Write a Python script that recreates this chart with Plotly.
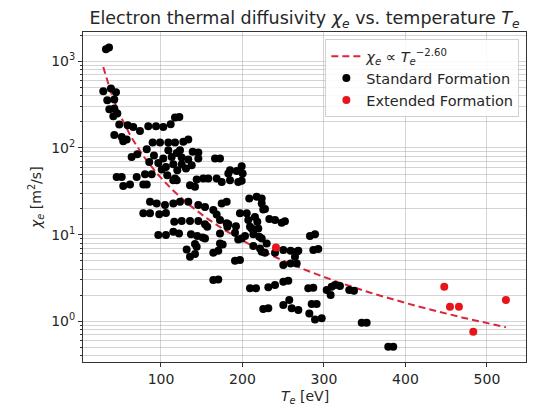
import plotly.graph_objects as go
import numpy as np

# Standard formation: temperature T_e [eV] and chi_e [m^2/s]
std_T = [32.5, 36.2, 29.2, 38.6, 44.8, 34.1, 42.7, 36.6, 42.7, 41.5, 46.4, 48.8, 59.1, 66.0, 74.2,
         84.4, 93.9, 102.8, 111.9, 117.2, 122.5, 42.7, 51.8, 53.7, 57.9, 89.8, 98.8, 109.0, 117.2,
         127.4, 133.5, 82.5, 109.0, 119.3, 123.3, 138.9, 145.8, 64.0, 70.9, 91.4, 102.8, 113.1,
         125.4, 133.5, 145.8, 166.3, 172.4, 85.6, 96.7, 106.1, 115.1, 125.4, 137.7, 100.9, 107.7,
         45.6, 51.8, 70.2, 80.4, 88.6, 117.2, 143.8, 151.9, 158.0, 168.3, 182.6, 120.0, 130.7,
         53.7, 62.0, 78.3, 82.5, 115.1, 119.3, 135.6, 141.7, 174.5, 86.5, 94.7, 104.9, 115.1,
         123.3, 133.5, 145.8, 154.0, 78.3, 86.5, 97.9, 106.1, 164.2, 168.3, 174.5, 180.6, 116.3,
         125.4, 135.6, 145.8, 154.0, 156.8, 182.6, 96.7, 106.1, 115.1, 122.1, 136.8, 144.5, 151.2,
         154.0, 141.7, 143.8, 131.5, 135.6, 141.7, 164.2, 170.3, 172.4, 175.7, 172.4, 164.2, 170.3,
         184.7, 184.7, 192.9, 199.0, 200.2, 199.0, 194.8, 172.4, 180.6, 181.4, 192.0, 196.9, 205.2,
         207.1, 209.2, 208.3, 217.4, 223.6, 223.6, 225.5, 227.6, 215.3, 218.2, 219.4, 211.3, 232.9,
         239.9, 248.1, 252.1, 190.8, 194.8, 199.0, 203.1, 213.3, 220.6, 223.6, 229.7, 213.3, 221.5,
         223.6, 227.6, 239.9, 250.1, 259.1, 266.5, 268.5, 250.1, 259.1, 266.5, 264.4, 282.8, 289.0,
         286.9, 293.0, 190.8, 196.9, 209.2, 216.6, 231.7, 239.9, 250.1, 256.2, 225.5, 231.7, 250.1,
         257.4, 260.4, 268.5, 280.7, 286.9, 282.0, 284.9, 291.0, 289.0, 297.2, 303.3, 308.2, 309.4,
         313.5, 319.6, 331.0, 336.8, 346.3, 352.4, 378.9, 385.0]
std_chi = [1380, 1443, 452, 486, 440, 356, 362, 280, 286, 233, 250, 187, 183, 175, 157,
           178, 178, 175, 188, 225, 228, 141, 134, 120, 125, 116, 116, 116, 116,
           118, 125, 96.9, 94.4, 87.8, 94.4, 90.2, 88.7, 78.9, 84.8, 81.9, 75.6, 78.9,
           77.6, 73.6, 75.6, 75.6, 75.6, 69.1, 67.3, 60.5, 65.0, 64.5, 63.3, 56.5, 48.6,
           46.4, 46.4, 46.4, 49.9, 49.9, 44.5, 43.3, 44.5, 44.5, 44.5, 50.8, 55.5, 58.0,
           36.3, 37.9, 37.9, 37.9, 42.5, 42.5, 37.2, 35.6, 40.6, 23.9, 22.9, 21.9, 22.9,
           23.9, 23.9, 21.9, 20.9, 17.6, 17.6, 17.2, 17.8, 19.2, 17.1, 22.9, 23.9, 14.1,
           14.4, 14.4, 14.4, 13.2, 12.3, 13.2, 9.87, 9.87, 10.8, 10.3, 10.1, 9.61, 9.29,
           9.04, 7.77, 7.23, 6.75, 5.55, 5.96, 6.17, 6.50, 7.91, 7.71, 10.3, 2.99, 3.04,
           42.5, 55.5, 54.4, 61.7, 50.8, 41.8, 40.6, 14.7, 13.5, 12.3, 12.5, 17.6, 17.6,
           14.7, 12.3, 26.2, 27.3, 26.2, 22.9, 19.5, 19.8, 16.0, 14.1, 11.8, 11.8, 15.1,
           14.7, 13.7, 14.3, 10.5, 8.80, 9.04, 9.61, 10.1, 9.43, 9.04, 7.91, 7.37, 6.93,
           6.33, 6.17, 6.17, 6.63, 6.50, 6.33, 6.50, 4.45, 4.65, 4.65, 5.55, 9.61, 10.1,
           6.63, 6.80, 4.99, 5.08, 2.40, 2.40, 2.46, 2.62, 2.86, 2.93, 1.38, 1.41, 1.54,
           1.76, 1.41, 1.35, 2.40, 2.43, 1.23, 1.58, 1.58, 1.05, 1.08, 2.29, 2.01, 2.50,
           2.62, 2.55, 2.29, 2.25, 0.96, 0.96, 0.508, 0.508]

# Extended formation
ext_T = [241.1, 447.6, 454.6, 465.6, 483.2, 523.3]
ext_chi = [7.12, 2.50, 1.47, 1.47, 0.757, 1.76]

# Power-law guide line as drawn: chi = A * T^(-p)
fit_A = 2.8e6
fit_p = 2.397
fit_label_exp = "−2.60"

x_ticks = [100, 200, 300, 400, 500]
y_ticks = [1, 10, 100, 1000]
y_ticktext = ["10<sup>0</sup>", "10<sup>1</sup>", "10<sup>2</sup>", "10<sup>3</sup>"]

T_all = std_T + ext_T
T_line = np.linspace(min(T_all), max(T_all), 300)
chi_line = fit_A * T_line ** (-fit_p)

minor_vals = [m * 10.0 ** k for k in range(-1, 4) for m in range(2, 10)]

FONT = "DejaVu Sans"
GRID = "rgba(170,170,170,0.5)"
TXT = "#262626"

fig = go.Figure()
fig.add_trace(go.Scatter(
    x=T_line, y=chi_line, mode="lines",
    line=dict(color="#d9263a", width=2, dash="7px,4px"),
    name=f"<i>χ<sub>e</sub></i> ∝ <i>T<sub>e</sub></i><sup>{fit_label_exp}</sup>",
))
fig.add_trace(go.Scatter(
    x=std_T, y=std_chi, mode="markers",
    marker=dict(color="black", size=8, line=dict(width=0)),
    name="Standard Formation",
))
fig.add_trace(go.Scatter(
    x=ext_T, y=ext_chi, mode="markers",
    marker=dict(color="#e8141c", size=8, line=dict(width=0)),
    name="Extended Formation",
))

L, R, T, B = 83, 12, 32, 50
W, H = 538, 412
pw = W - L - R
ph = H - T - B

fig.update_layout(
    width=W, height=H,
    margin=dict(l=L, r=R, t=T, b=B),
    paper_bgcolor="white", plot_bgcolor="white",
    font=dict(family=FONT, size=14, color=TXT),
    showlegend=True,
    legend=dict(
        x=0.985, y=0.978, xanchor="right", yanchor="top",
        bgcolor="rgba(255,255,255,0.85)", bordercolor="#d0d0d0", borderwidth=1,
        font=dict(family=FONT, size=14.5, color=TXT),
        itemwidth=30, tracegroupgap=0,
    ),
    title=dict(
        text="Electron thermal diffusivity <i>χ<sub>e</sub></i> vs. temperature <i>T<sub>e</sub></i>",
        x=0.5, xref="paper", y=1 - 18 / H, yanchor="middle", yref="container",
        font=dict(family=FONT, size=17.5, color=TXT),
    ),
    xaxis=dict(
        range=[4.3, 547.9], tickvals=x_ticks, ticks="outside", ticklen=4,
        tickcolor="#333", showgrid=True, gridcolor=GRID, gridwidth=1,
        showline=True, mirror=True, linecolor="#333", linewidth=1, zeroline=False,
        tickfont=dict(size=14),
    ),
    yaxis=dict(
        type="log", range=[-0.4706, 3.339], tickvals=y_ticks, ticktext=y_ticktext,
        ticks="outside", ticklen=4, tickcolor="#333",
        showgrid=True, gridcolor=GRID, gridwidth=1,
        showline=True, mirror=True, linecolor="#333", linewidth=1, zeroline=False,
        tickfont=dict(size=14),
        minor=dict(tickvals=minor_vals, ticks="outside", ticklen=2, tickcolor="#333",
                   showgrid=True, gridcolor=GRID, gridwidth=1),
    ),
    annotations=[
        dict(text="<i>T<sub>e</sub></i> [eV]", x=(305 - L) / pw, y=-(397 - (T + ph)) / ph,
             xref="paper", yref="paper", showarrow=False, xanchor="center", yanchor="middle",
             font=dict(family=FONT, size=14, color=TXT)),
        dict(text="<i>χ<sub>e</sub></i> [m<sup>2</sup>/s]", x=(36 - L) / pw, y=(T + ph - 198) / ph,
             xref="paper", yref="paper", showarrow=False, xanchor="center", yanchor="middle",
             textangle=-90, font=dict(family=FONT, size=14, color=TXT)),
    ],
)

fig.write_html("out.html")
